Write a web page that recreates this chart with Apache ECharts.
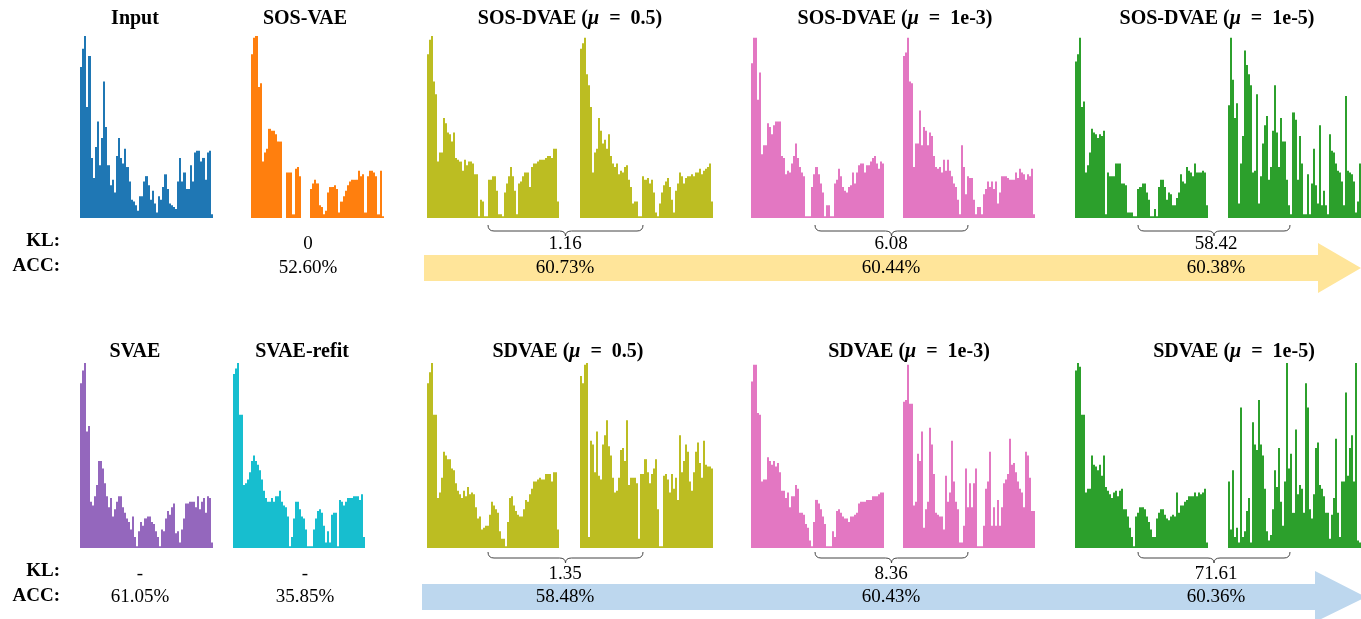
<!DOCTYPE html>
<html>
<head>
<meta charset="utf-8">
<script src="https://cdn.jsdelivr.net/npm/echarts@6/dist/echarts.min.js"></script>
<style>
html,body{margin:0;padding:0;background:#fff;}
#chart{width:1361px;height:619px;}
</style>
</head>
<body>
<div id="chart"></div>
<script>
// ---------- data (normalised bar heights, 0-100) ----------
const inputVals = [83,93,100,61,89,33,22,39,53,29,44,75,50,29,18,21,14,34,44,33,30,38,28,20,10,9,7,4,12,12,20,23,18,10,15,8,3,12,10,17,24,16,8,7,6,5,20,33,20,25,16,16,29,20,36,37,37,31,33,21,36,37,2];
const sosVaeVals = [90,99,100,72,74,31,36,38,49,48,48,46,42,42,0,0,25,25,25,2,27,28,23,0,0,0,0,16,19,21,19,7,6,2,4,14,17,17,18,16,3,9,12,15,18,20,21,21,21,26,23,24,3,23,26,26,25,23,2,26,1];
const sosDvae05A = [90,98,100,75,68,31,36,36,55,52,47,46,42,47,33,32,31,26,32,29,31,31,30,24,24,1,10,9,1,1,21,21,23,23,15,2,2,1,14,19,23,28,23,15,2,19,20,23,25,25,17,28,30,30,31,32,32,32,33,34,34,33,38,38,9];
const sosDvae05B = [93,96,99,79,73,61,25,36,38,55,48,41,43,38,46,34,30,28,30,24,26,25,28,29,21,17,8,9,9,1,1,23,21,22,19,21,14,3,1,8,14,18,20,22,17,10,3,15,19,25,23,19,22,23,23,24,23,25,25,27,24,26,27,28,30,9];
const sosDvae3A = [85,99,99,65,80,35,40,40,52,50,46,51,53,53,53,34,33,24,26,25,30,34,41,33,28,25,23,1,1,1,17,24,28,24,19,14,1,7,7,1,1,19,21,27,23,17,15,14,17,18,25,19,25,29,30,30,25,29,29,31,33,34,30,27,31,30];
const sosDvae3B = [89,91,99,75,74,28,41,41,59,40,50,48,40,47,45,34,28,27,28,25,32,26,32,26,23,19,17,10,2,40,28,13,23,22,22,10,2,6,6,2,13,16,20,17,20,16,20,8,14,23,23,23,22,21,21,21,25,22,27,25,24,21,24,23,27,2];
const sosDvae5A = [86,90,99,61,64,25,29,36,49,47,46,44,46,45,48,2,25,23,23,23,30,30,30,19,19,18,3,3,3,1,1,16,17,19,19,14,10,1,1,5,1,17,21,21,17,10,14,13,7,7,11,14,24,20,19,28,26,25,23,30,25,25,25,26,25,7];
const sosDvae5B = [62,99,76,55,63,8,30,45,92,84,79,73,25,26,68,8,23,41,51,56,21,28,48,73,47,28,55,42,42,21,7,2,58,54,21,45,30,2,2,24,2,19,38,18,8,51,7,15,7,2,46,37,36,30,26,25,20,7,67,26,25,24,20,3,9,30];
const svaeVals = [89,96,100,63,66,25,23,28,34,47,47,43,35,28,22,27,17,21,25,28,28,22,19,16,14,10,17,6,1,9,14,12,16,17,17,14,13,9,6,1,10,9,16,20,18,22,24,8,9,3,10,16,24,24,25,25,25,22,28,21,25,27,19,28,27,3];
const svaeRefitVals = [94,97,100,72,72,34,35,37,41,47,50,47,45,42,37,31,27,25,25,27,25,28,28,31,25,23,22,17,1,6,16,25,25,21,17,16,10,1,1,1,10,16,20,21,19,12,3,9,3,18,19,19,1,26,25,23,25,27,27,27,28,28,28,26,29,6];
const sdvae05A = [89,95,100,72,72,27,30,38,52,50,48,48,43,42,35,31,29,27,31,28,33,29,30,29,22,16,17,10,11,12,12,18,25,23,21,19,9,5,5,1,14,27,28,23,20,18,17,17,21,26,25,29,32,36,36,37,38,37,37,40,40,40,36,41,41,10];
const sdvae05B = [93,89,99,100,6,58,56,41,63,39,37,56,61,69,55,50,38,30,31,38,53,54,47,69,34,38,38,38,35,5,40,40,48,41,35,40,43,48,21,1,1,39,40,37,30,40,32,38,26,61,41,47,56,52,36,31,41,52,57,46,38,58,45,44,44,43];
const sdvae3A = [90,99,99,73,72,36,37,37,49,47,45,47,44,46,41,31,31,27,30,22,28,28,34,32,19,19,18,13,11,4,1,14,26,24,21,17,13,1,1,1,9,6,20,21,19,17,16,16,14,17,17,18,19,24,25,25,25,26,26,26,28,28,28,29,30,30];
const sdvae3B = [79,80,99,78,78,23,25,51,47,63,11,21,25,65,56,40,19,18,17,17,10,39,25,30,58,36,25,21,3,3,12,43,22,35,22,35,43,1,1,1,12,32,36,52,12,22,12,26,12,22,35,37,40,59,45,46,41,36,32,30,22,52,50,38,20,20];
const sdvae5A = [96,100,98,72,72,30,32,32,50,45,44,42,45,39,50,33,31,29,27,30,31,28,31,32,21,21,17,11,6,1,17,19,22,22,21,17,14,10,6,6,16,19,21,21,18,16,15,17,18,17,30,19,23,23,25,26,28,28,28,30,28,30,29,30,32,3];
const sdvae5B = [36,10,42,6,11,3,76,6,9,20,27,3,68,56,53,80,56,50,32,9,4,7,21,42,33,54,25,12,36,100,43,51,19,64,29,34,32,19,89,76,21,16,29,54,57,34,32,28,19,19,5,18,27,59,19,6,36,36,84,39,54,61,36,100,4,3];

const titlesTop = [
  {x:135, pre:'Input'}, {x:305, pre:'SOS-VAE'},
  {x:570, pre:'SOS-DVAE (', mu:'0.5)'}, {x:895, pre:'SOS-DVAE (', mu:'1e-3)'}, {x:1217, pre:'SOS-DVAE (', mu:'1e-5)'}
];
const titlesBottom = [
  {x:135, pre:'SVAE'}, {x:302, pre:'SVAE-refit'},
  {x:568, pre:'SDVAE (', mu:'0.5)'}, {x:909, pre:'SDVAE (', mu:'1e-3)'}, {x:1234, pre:'SDVAE (', mu:'1e-5)'}
];
const klTop = ['0','1.16','6.08','58.42'];
const accTop = ['52.60%','60.73%','60.44%','60.38%'];
const klBottom = ['-','-','1.35','8.36','71.61'];
const accBottom = ['61.05%','35.85%','58.48%','60.43%','60.36%'];

// ---------- layout ----------
const C = {blue:'#1f77b4', orange:'#ff7f0e', olive:'#bcbd22', pink:'#e377c2', green:'#2ca02c', purple:'#9467bd', cyan:'#17becf'};
const panels = [
  {d:inputVals, c:C.blue,   x:80,  w:133, top:36, h:182},
  {d:sosVaeVals,c:C.orange, x:251, w:133, top:36, h:182},
  {d:sosDvae05A,c:C.olive,  x:427, w:132, top:36, h:182},
  {d:sosDvae05B,c:C.olive,  x:580, w:133, top:36, h:182},
  {d:sosDvae3A, c:C.pink,   x:751, w:133, top:36, h:182},
  {d:sosDvae3B, c:C.pink,   x:903, w:132, top:36, h:182},
  {d:sosDvae5A, c:C.green,  x:1075,w:133, top:36, h:182},
  {d:sosDvae5B, c:C.green,  x:1228,w:133, top:36, h:182},
  {d:svaeVals,  c:C.purple, x:80,  w:133, top:363, h:185},
  {d:svaeRefitVals,c:C.cyan,x:233, w:132, top:363, h:185},
  {d:sdvae05A,  c:C.olive,  x:427, w:132, top:363, h:185},
  {d:sdvae05B,  c:C.olive,  x:580, w:133, top:363, h:185},
  {d:sdvae3A,   c:C.pink,   x:751, w:133, top:363, h:185},
  {d:sdvae3B,   c:C.pink,   x:903, w:132, top:363, h:185},
  {d:sdvae5A,   c:C.green,  x:1075,w:133, top:363, h:185},
  {d:sdvae5B,   c:C.green,  x:1228,w:133, top:363, h:185}
];

const FONT = 'Liberation Serif';
const grid = [], xAxis = [], yAxis = [], series = [];
panels.forEach((p, i) => {
  grid.push({left:p.x, top:p.top, width:p.w, height:p.h});
  xAxis.push({type:'category', gridIndex:i, show:false, data:p.d.map((_, k) => k)});
  yAxis.push({type:'value', gridIndex:i, show:false, min:0, max:100});
  // histogram bars: edges snapped to whole pixels so neighbouring bars meet without seams
  series.push({type:'custom', xAxisIndex:i, yAxisIndex:i, silent:true,
    data:p.d.map((v, k) => [k, v]),
    renderItem: (params, api) => {
      const k = api.value(0), v = api.value(1);
      const topPt = api.coord([k, v]);
      const basePt = api.coord([k, 0]);
      const bw = api.size([1, 0])[0];
      const x0 = Math.round(topPt[0] - bw / 2), x1 = Math.round(topPt[0] + bw / 2);
      return {type:'rect', shape:{x:x0, y:topPt[1], width:Math.max(1, x1 - x0), height:basePt[1] - topPt[1]},
        style:{fill:p.c}};
    }});
});

const graphic = [];
const SP = '\u2002';
function rt(x, y, t) {
  const rich = {
    b:{fontFamily:FONT, fontSize:20, fontWeight:'bold', fill:'#000'},
    m:{fontFamily:FONT, fontSize:20, fontWeight:'bold', fontStyle:'italic', fill:'#000'}
  };
  const text = t.mu ? '{b|' + t.pre + '}{m|μ}{b|' + SP + '=' + SP + t.mu + '}' : '{b|' + t.pre + '}';
  graphic.push({type:'text', x, y, z:20, style:{text, rich, align:'center', verticalAlign:'middle'}});
}
function txt(x, y, text, bold, align) {
  graphic.push({type:'text', x, y, z:20, style:{text, fontFamily:FONT, fontSize:19,
    fontWeight: bold ? 'bold' : 'normal', fill:'#000', align: align || 'center', verticalAlign:'middle'}});
}
titlesTop.forEach(t => rt(t.x, 19, t));
titlesBottom.forEach(t => rt(t.x, 352, t));

// arrows
graphic.push({type:'polygon', z:1, shape:{points:[[424,255],[1318,255],[1318,243],[1361,268],[1318,293],[1318,281],[424,281]]}, style:{fill:'#ffe59a'}});
graphic.push({type:'polygon', z:1, shape:{points:[[422,584],[1315,584],[1315,571],[1366,597],[1315,622],[1315,610],[422,610]]}, style:{fill:'#bdd7ee'}});

// braces
function brace(x1, x2, y) {
  const cx = (x1 + x2) / 2;
  const st = {stroke:'#444', lineWidth:1, fill:'none'};
  graphic.push({type:'bezierCurve', z:5, shape:{x1:x1, y1:y, x2:x1+6, y2:y+6, cpx1:x1, cpy1:y+6}, style:st});
  graphic.push({type:'line', z:5, shape:{x1:x1+6, y1:y+6, x2:cx-6, y2:y+6}, style:st});
  graphic.push({type:'bezierCurve', z:5, shape:{x1:cx-6, y1:y+6, x2:cx, y2:y+11, cpx1:cx, cpy1:y+6}, style:st});
  graphic.push({type:'bezierCurve', z:5, shape:{x1:cx, y1:y+11, x2:cx+6, y2:y+6, cpx1:cx, cpy1:y+6}, style:st});
  graphic.push({type:'line', z:5, shape:{x1:cx+6, y1:y+6, x2:x2-6, y2:y+6}, style:st});
  graphic.push({type:'bezierCurve', z:5, shape:{x1:x2-6, y1:y+6, x2:x2, y2:y, cpx1:x2, cpy1:y+6}, style:st});
}
[[488,643],[815,968],[1138,1290]].forEach(b => { brace(b[0], b[1], 225); brace(b[0], b[1], 552); });

// KL / ACC labels
txt(60, 241, 'KL:', true, 'right');
txt(60, 266, 'ACC:', true, 'right');
txt(60, 571, 'KL:', true, 'right');
txt(60, 596, 'ACC:', true, 'right');

const topXs = [308, 565, 891, 1216];
klTop.forEach((v, i) => txt(topXs[i], 244, v));
accTop.forEach((v, i) => txt(topXs[i], 268, v));
const botXs = [140, 305, 565, 891, 1216];
klBottom.forEach((v, i) => txt(botXs[i], 574, v));
accBottom.forEach((v, i) => txt(botXs[i], 597, v));

const chart = echarts.init(document.getElementById('chart'), null, {renderer:'canvas'});
chart.setOption({animation:false, backgroundColor:'#fff', grid, xAxis, yAxis, series, graphic});
</script>
</body>
</html>
